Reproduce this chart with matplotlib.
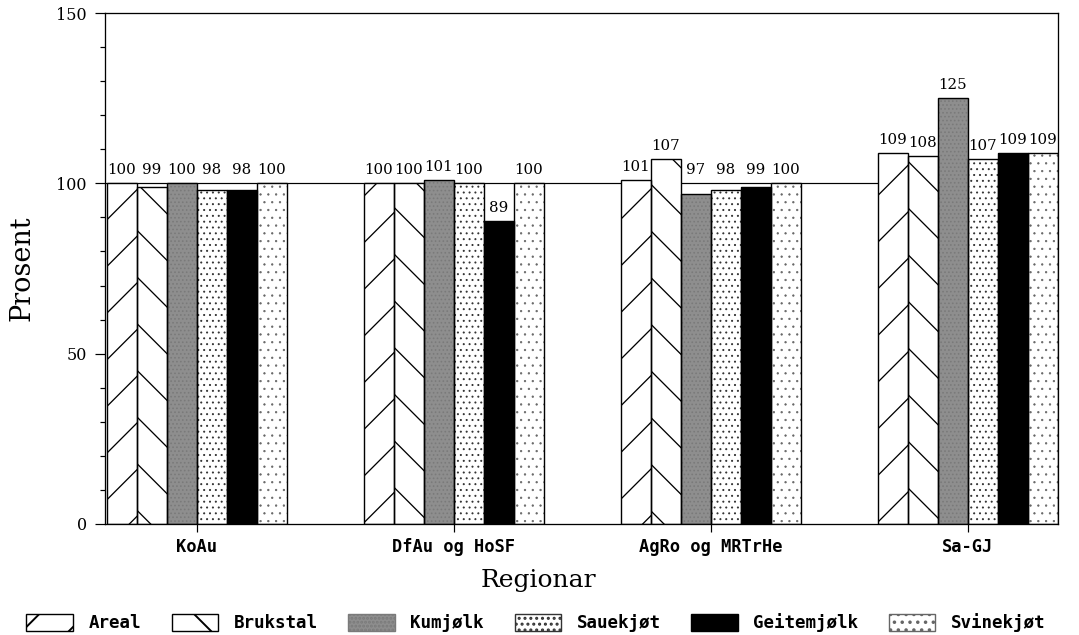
import matplotlib
matplotlib.use("Agg")
import matplotlib.pyplot as plt
import numpy as np
from matplotlib.patches import Patch
from matplotlib.ticker import MultipleLocator

# Index values (prosent) per region and product
regions = ["KoAu", "DfAu og HoSF", "AgRo og MRTrHe", "Sa-GJ"]
series_names = ["Areal", "Brukstal", "Kumjølk", "Sauekjøt", "Geitemjølk", "Svinekjøt"]
areal = [100, 100, 101, 109]
brukstal = [99, 100, 107, 108]
kumjolk = [100, 101, 97, 125]
sauekjot = [98, 100, 98, 107]
geitemjolk = [98, 89, 99, 109]
svinekjot = [100, 100, 100, 109]
y_ticks = [0, 50, 100, 150]

series_values = [areal, brukstal, kumjolk, sauekjot, geitemjolk, svinekjot]

DPI = 140


def pt(px):
    """Convert a size in pixels to points at the output resolution."""
    return px * 72.0 / DPI


# fill colour, hatch pattern, hatch colour and hatch line width (px) per product
bar_styles = [
    dict(facecolor="white", hatch="/", edgecolor="black"),
    dict(facecolor="white", hatch="\\", edgecolor="black"),
    dict(facecolor="#8e8e8e", hatch="......", edgecolor="#7a7a7a"),
    dict(facecolor="white", hatch="....", edgecolor="#333333"),
    dict(facecolor="black", hatch=None, edgecolor="black"),
    dict(facecolor="white", hatch="...", edgecolor="#666666"),
]
hatch_widths = [1.3, 1.3, 1.0, 0.9, 1.0, 0.7]

W, H = 1079, 635
fig = plt.figure(figsize=(W / DPI, H / DPI), dpi=DPI)
ax = fig.add_axes([105 / W, (H - 524) / H, (1058 - 105) / W, (524 - 13) / H])

mono = "DejaVu Sans Mono"
serif = "DejaVu Serif"

n = len(series_values)
width = 0.1167
x = np.arange(len(regions))

ax.axhline(100, color="black", lw=pt(1.2), zorder=1)

for i, (vals, st, hw) in enumerate(zip(series_values, bar_styles, hatch_widths)):
    pos = x + (i - (n - 1) / 2) * width
    # patterned fill, then a crisp black outline on top
    with plt.rc_context({"hatch.linewidth": pt(hw)}):
        ax.bar(pos, vals, width=width, linewidth=0, zorder=2, **st)
    ax.bar(pos, vals, width=width, facecolor="none", edgecolor="black",
           linewidth=pt(1.4), zorder=3)
    for px_, v in zip(pos, vals):
        # keep labels of values just below 100 clear of the 100 % line
        y_lab = 100 if 95 <= v < 100 else v
        ax.annotate(f"{v}", (px_, y_lab), xytext=(0, pt(6)),
                    textcoords="offset points", ha="center", va="bottom",
                    fontsize=pt(15), family=serif, zorder=4)

ax.set_xlim(-0.358, 3.352)
ax.set_ylim(0, 150)
ax.set_yticks(y_ticks)
ax.yaxis.set_minor_locator(MultipleLocator(10))
ax.set_xticks(x)
ax.set_xticklabels(regions, family=mono, fontweight="bold", fontsize=pt(17))
ax.tick_params(axis="y", which="major", length=pt(10), width=pt(1.2),
               labelsize=pt(16), pad=pt(8))
ax.tick_params(axis="y", which="minor", length=pt(5), width=pt(1.2))
ax.tick_params(axis="x", which="major", length=pt(8), width=pt(1.2),
               pad=pt(6))
for lab in ax.get_yticklabels():
    lab.set_family(serif)

for sp in ax.spines.values():
    sp.set_linewidth(pt(1.3))

ax.set_ylabel("Prosent", family=serif, fontsize=pt(27))
ax.yaxis.set_label_coords(-(105 - 22) / 953, 0.5)
ax.set_xlabel("Regionar", family=serif, fontsize=pt(25))
ax.xaxis.set_label_coords((538 - 105) / 953, -(580 - 524) / 511)
ax.xaxis.label.set_va("center")
ax.yaxis.label.set_va("center")

handles = []
for st, hw in zip(bar_styles, hatch_widths):
    with plt.rc_context({"hatch.linewidth": pt(hw)}):
        handles.append(Patch(**st, linewidth=pt(1.4)))
handles[0].set_edgecolor("black")
fig.legend(handles, series_names, loc="center", bbox_to_anchor=(536 / W, 1 - 623 / H),
           ncol=6, frameon=False, prop=dict(family=mono, weight="bold", size=pt(17.5)),
           handlelength=2.65, handleheight=1.15, handletextpad=0.9,
           columnspacing=1.75, borderpad=0, borderaxespad=0)

fig.savefig("out.png", dpi=DPI)
